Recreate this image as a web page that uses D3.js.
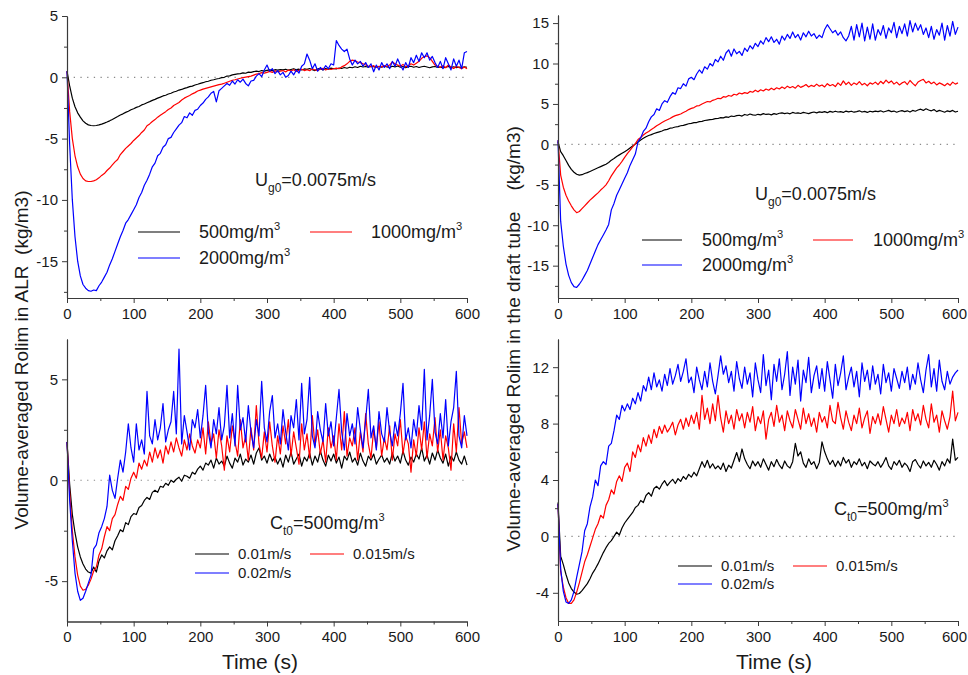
<!DOCTYPE html>
<html>
<head>
<meta charset="utf-8">
<script src="https://cdn.jsdelivr.net/npm/d3@7"></script>
<style>
  body { margin: 0; background: #fff; }
  svg text { font-family: Arial, "Liberation Sans", sans-serif; }
</style>
</head>
<body>
<svg id="chart" width="968" height="675"></svg>
<script>
// Sampling interval of every series below (s); value i is at t = i * timeStep.
const timeStep = 4;

// ALR, Ug0 = 0.0075 m/s, three inlet concentrations
const alrC500 = [
  0.5, -0.7, -1.7, -2.4, -2.9, -3.25, -3.55, -3.75, -3.88, -3.93,
  -3.95, -3.93, -3.88, -3.82, -3.74, -3.65, -3.55, -3.44, -3.32, -3.2,
  -3.07, -2.98, -2.86, -2.77, -2.65, -2.56, -2.45, -2.38, -2.25, -2.18,
  -2.07, -1.98, -1.88, -1.8, -1.7, -1.62, -1.52, -1.46, -1.36, -1.3,
  -1.2, -1.14, -1.04, -0.99, -0.9, -0.84, -0.76, -0.72, -0.63, -0.57,
  -0.5, -0.44, -0.36, -0.32, -0.24, -0.2, -0.14, -0.1, -0.03, 0.0,
  0.1, 0.12, 0.2, 0.24, 0.28, 0.3, 0.36, 0.33, 0.42, 0.4,
  0.46, 0.5, 0.47, 0.55, 0.5, 0.57, 0.6, 0.55, 0.62, 0.58,
  0.63, 0.6, 0.66, 0.58, 0.64, 0.7, 0.62, 0.66, 0.6, 0.68,
  0.65, 0.72, 0.62, 0.55, 0.68, 0.7, 0.6, 0.72, 0.66, 0.75,
  0.7, 0.68, 0.76, 0.72, 0.8, 0.74, 0.82, 0.78, 0.86, 0.8,
  0.9, 0.84, 0.88, 0.82, 0.9, 0.86, 0.8, 0.88, 0.82, 0.9,
  0.85, 0.8, 0.9, 0.85, 0.92, 0.82, 0.88, 0.78, 0.86, 0.9,
  0.82, 0.88, 0.8, 0.86, 0.9, 0.84, 0.78, 0.85, 0.88, 0.8,
  0.84, 0.76, 0.82, 0.88, 0.8, 0.86, 0.78, 0.84, 0.8, 0.86,
  0.82
];
const alrC1000 = [
  0.5, -2.8, -5.0, -6.4, -7.3, -7.9, -8.25, -8.45, -8.5, -8.5,
  -8.45, -8.35, -8.2, -8.0, -7.85, -7.6, -7.4, -7.15, -6.9, -6.7,
  -6.3, -6.05, -5.8, -5.6, -5.4, -5.15, -4.95, -4.75, -4.5, -4.3,
  -3.95, -3.8, -3.6, -3.45, -3.25, -3.1, -2.95, -2.8, -2.62, -2.5,
  -2.3, -2.18, -2.05, -1.85, -1.7, -1.58, -1.48, -1.35, -1.25, -1.12,
  -1.05, -0.96, -0.9, -0.84, -0.78, -0.72, -0.66, -0.6, -0.56, -0.48,
  -0.4, -0.32, -0.24, -0.2, -0.14, -0.08, -0.02, 0.02, 0.06, 0.1,
  0.18, 0.26, 0.3, 0.38, 0.34, 0.4, 0.48, 0.4, 0.52, 0.45,
  0.5, 0.55, 0.44, 0.6, 0.52, 0.62, 0.48, 0.58, 0.66, 0.55,
  0.62, 0.54, 0.7, 0.6, 0.56, 0.66, 0.74, 0.6, 0.7, 0.64,
  0.7, 0.75, 0.7, 0.85, 0.95, 1.1, 1.3, 1.4, 1.35, 1.25,
  1.2, 1.1, 1.0, 0.92, 0.85, 0.95, 0.8, 0.9, 0.85, 0.95,
  0.88, 1.0, 1.25, 1.1, 1.0, 0.9, 1.05, 0.85, 0.95, 1.1,
  1.0, 1.15, 1.3, 1.55, 1.7, 1.75, 1.6, 1.3, 1.0, 0.9,
  0.82, 0.95, 0.78, 1.0, 0.85, 0.72, 0.9, 0.8, 0.7, 0.85,
  0.7
];
const alrC2000 = [
  0.5, -5.5, -10.0, -13.0, -15.0, -16.2, -16.9, -17.2, -17.4, -17.45,
  -17.35, -17.4, -17.0, -16.7, -16.3, -15.9, -15.3, -14.8, -14.2, -13.6,
  -13.0, -12.5, -11.9, -11.6, -11.2, -10.8, -10.4, -9.8, -9.4, -8.8,
  -8.4, -7.9, -7.3, -7.0, -6.4, -6.2, -5.7, -5.5, -5.0, -4.9,
  -4.5, -4.2, -3.9, -3.7, -3.2, -3.3, -2.9, -3.1, -2.7, -2.6,
  -2.3, -2.1, -1.8, -1.6, -1.3, -1.15, -2.0, -1.1, -0.9, -0.7,
  -0.5, -0.65, -0.3, -0.55, -0.2, -0.4, -0.15, -0.5, -0.7, -0.3,
  -0.25, 0.1, 0.3, 0.05, 0.6, 1.0, 0.5, 0.7, 0.3, 0.55,
  0.2, 0.4, 0.0, 0.15, 0.5, 0.2, 0.6, 0.35, 0.9, 1.1,
  1.9, 1.4, 0.7, 1.1, 0.5, 0.8, 0.6, 0.95, 0.7, 1.1,
  1.0, 3.0, 2.6, 2.3, 2.1, 2.3, 1.5, 1.0, 1.4, 1.1,
  1.3, 0.9, 1.2, 0.8, 1.1, 0.45, 1.0, 0.6, 1.2, 0.8,
  1.1, 0.7, 1.3, 0.9, 1.5, 1.0, 0.6, 1.2, 0.8, 1.6,
  1.2, 1.8, 1.3, 2.0, 1.6, 2.0, 1.4, 1.7, 1.2, 0.8,
  1.3, 0.7, 1.6, 1.1, 0.6, 1.5, 0.9, 1.4, 0.7, 2.0,
  2.1
];

// Draft tube, Ug0 = 0.0075 m/s, three inlet concentrations
const tubeC500 = [
  0.3, -0.9, -1.4, -2.0, -2.6, -3.1, -3.45, -3.7, -3.8, -3.75,
  -3.6, -3.5, -3.35, -3.2, -3.05, -2.9, -2.75, -2.6, -2.45, -2.25,
  -1.95, -1.75, -1.5, -1.3, -1.1, -0.9, -0.7, -0.45, -0.2, 0.05,
  0.3, 0.55, 0.75, 0.95, 1.1, 1.2, 1.35, 1.45, 1.55, 1.65,
  1.8, 1.85, 2.0, 2.05, 2.15, 2.2, 2.3, 2.35, 2.45, 2.55,
  2.6, 2.68, 2.7, 2.82, 2.85, 2.95, 3.0, 3.05, 3.1, 3.18,
  3.2, 3.3, 3.28, 3.4, 3.35, 3.5, 3.45, 3.55, 3.6, 3.5,
  3.7, 3.6, 3.75, 3.65, 3.6, 3.72, 3.65, 3.8, 3.7, 3.75,
  3.65, 3.8, 3.72, 3.85, 3.9, 3.8, 3.88, 3.78, 3.95, 3.85,
  3.9, 3.82, 3.95, 3.88, 3.8, 3.92, 4.0, 3.9, 4.02, 3.95,
  4.05, 3.92, 4.08, 3.98, 4.1, 4.0, 4.05, 3.95, 4.12, 4.02,
  4.1, 3.98, 4.05, 4.15, 4.0, 4.08, 3.95, 4.1, 4.02, 4.12,
  4.05, 4.15, 4.0, 4.1, 4.2, 4.05, 4.12, 3.98, 4.1, 4.18,
  4.05, 4.15, 4.0, 4.2, 4.1, 4.25, 4.35, 4.2, 4.4, 4.25,
  4.15, 4.3, 4.05, 4.2, 4.1, 3.98, 4.15, 4.05, 4.2, 4.0,
  4.1
];
const tubeC1000 = [
  0.5, -3.8, -5.3, -6.3, -7.0, -7.6, -8.1, -8.45, -8.3, -7.95,
  -7.6, -7.25, -6.9, -6.6, -6.3, -6.0, -5.65, -5.35, -5.0, -4.5,
  -3.9, -3.4, -2.9, -2.55, -2.1, -1.6, -1.15, -0.75, -0.3, 0.1,
  0.6, 0.85, 1.15, 1.4, 1.6, 1.85, 2.05, 2.3, 2.5, 2.7,
  2.9, 3.05, 3.2, 3.4, 3.55, 3.65, 3.75, 3.95, 4.1, 4.3,
  4.45, 4.55, 4.75, 4.8, 5.0, 5.15, 5.3, 5.25, 5.45, 5.55,
  5.7, 5.65, 5.9, 5.85, 6.05, 5.95, 6.2, 6.1, 6.35, 6.25,
  6.4, 6.3, 6.55, 6.45, 6.7, 6.5, 6.75, 6.6, 6.85, 6.7,
  6.95, 6.75, 7.0, 6.85, 7.1, 6.9, 7.2, 7.0, 7.15, 6.95,
  7.3, 7.05, 7.2, 7.4, 7.1, 7.3, 7.15, 7.45, 7.2, 7.35,
  7.1, 7.5, 7.25, 7.4, 7.15, 7.6, 7.3, 7.85, 7.4, 7.7,
  7.3, 7.6, 7.4, 7.75, 7.35, 7.55, 7.25, 7.6, 7.45, 7.7,
  7.4, 7.8, 7.5, 7.95, 7.6, 7.85, 7.45, 7.7, 7.35, 7.6,
  7.75, 7.4, 7.9, 7.55, 7.25, 7.7, 7.9, 8.05, 7.6, 7.8,
  7.5, 7.7, 7.35, 7.6, 7.45, 7.25, 7.55, 7.3, 7.7, 7.45,
  7.6
];
const tubeC2000 = [
  0.5, -9.5, -12.6, -14.8, -16.2, -17.1, -17.6, -17.7, -17.3, -16.8,
  -16.2, -15.6, -14.8, -14.0, -13.2, -12.4, -11.8, -11.2, -10.6, -9.9,
  -8.1, -7.3, -6.3, -5.6, -4.9, -4.2, -3.5, -2.6, -1.9, -1.2,
  0.3, 0.8, 1.6, 2.0, 2.8, 3.4, 3.7, 4.4, 4.2, 5.0,
  5.4, 5.2, 5.9, 6.4, 6.2, 7.0, 6.9, 7.5, 7.2, 8.1,
  8.3, 8.0, 8.7, 9.2, 8.8, 9.6, 9.3, 10.0, 9.7, 10.5,
  10.2, 10.9, 10.4, 11.3, 11.7, 10.9, 11.8, 11.2, 11.5, 11.0,
  11.9, 11.5, 12.2, 11.8, 12.5, 12.1, 12.8, 12.4, 13.2, 12.7,
  13.3, 12.6, 13.0, 12.4, 13.4, 12.9, 13.6, 13.1, 13.9, 13.2,
  13.6, 12.9, 13.8, 13.3, 14.0, 13.4, 13.7, 13.1, 13.5, 13.2,
  14.2, 14.8, 14.3, 13.8, 14.1, 13.5, 13.9, 13.2, 12.8, 13.4,
  14.6, 12.9, 14.8, 13.3, 15.0, 12.8, 14.5, 13.0, 14.9, 12.9,
  14.2, 13.5, 14.7, 13.1, 14.4, 13.8, 15.1, 13.2, 14.6, 13.7,
  14.9, 13.4, 15.3, 13.9, 15.0, 14.1, 14.8, 13.6, 14.4, 13.2,
  14.6, 13.0, 14.2, 13.5, 15.0, 12.9, 14.7, 13.4, 15.2, 13.6,
  14.5
];

// ALR, Ct0 = 500 mg/m3, three superficial gas velocities
const alrU010 = [
  1.9, -0.2, -1.7, -2.6, -3.3, -3.8, -4.15, -4.4, -4.55, -4.6,
  -4.3, -4.55, -4.0, -3.7, -3.85, -3.5, -3.3, -3.45, -3.0, -2.75,
  -2.45, -2.55, -2.1, -2.2, -1.8, -1.65, -1.7, -1.35, -1.25, -1.0,
  -0.85, -0.95, -0.6, -0.5, -0.6, -0.3, -0.35, -0.15, -0.25, 0.0,
  -0.1, 0.05, 0.15, -0.05, 0.25, 0.2, 0.1, 0.4, 0.3, 0.55,
  0.7, 0.5, 0.85, 0.75, 1.0, 0.6, 1.1, 0.8, 0.95, 0.7,
  1.2, 0.85, 0.6, 1.1, 0.9, 1.3, 0.75, 1.05, 0.9, 1.25,
  0.8, 1.35, 1.6, 1.0, 1.2, 0.85, 1.3, 0.95, 1.15, 0.8,
  1.1, 0.65, 1.25, 0.9, 1.4, 0.8, 1.05, 1.3, 0.7, 1.15,
  0.95, 1.35, 0.75, 1.2, 0.9, 1.45, 1.0, 0.7, 1.25, 0.95,
  1.3, 0.85, 1.15, 0.6, 1.2, 1.0, 1.4, 0.9, 1.1, 0.75,
  1.35, 0.95, 0.7, 1.2, 1.0, 1.3, 0.8, 1.05, 1.25, 0.9,
  1.1, 0.8, 1.35, 0.95, 1.2, 0.85, 1.45, 1.0, 0.75, 1.15,
  0.9, 1.3, 1.05, 1.6, 0.95, 1.25, 0.8, 1.35, 1.0, 1.5,
  1.1, 0.85, 1.3, 0.7, 1.2, 0.95, 1.4, 1.0, 0.8, 1.2,
  0.75
];
const alrU015 = [
  1.9, -0.6, -2.5, -3.8, -4.7, -5.25, -5.45, -5.4, -5.2, -4.9,
  -4.5, -4.3, -3.7, -3.4, -2.8, -2.3, -2.5, -1.9, -1.7, -1.2,
  -0.8, -1.0, -0.3, -0.45, 0.1, 0.4, 0.1, 0.85, 0.55, 1.0,
  0.7, 1.4, 0.9, 1.6, 1.1, 1.5, 0.85, 1.7, 1.3, 1.9,
  1.4, 2.1, 1.6, 1.2, 2.0, 1.5, 2.3, 1.7, 1.35, 2.0,
  1.6, 2.6, 1.3, 2.9, 1.8, 2.3, 1.1, 2.5, 1.7, 0.5,
  2.2, 1.4, 2.7, 1.9, 1.2, 3.0, 1.6, 2.2, 1.0, 2.6,
  1.5, 3.7, 1.8, 1.1, 2.4, 1.4, 2.9, 1.7, 0.9, 2.2,
  1.3, 2.7, 1.8, 3.0, 1.2, 2.4, 1.6, 0.8, 2.8, 1.5,
  2.3, 1.1, 3.2, 1.7, 2.5, 1.3, 2.0, 0.9, 2.6, 1.6,
  2.2, 1.0, 2.8, 1.5, 3.4, 1.2, 2.1, 1.7, 2.6, 1.0,
  2.4, 1.4, 3.3, 1.8, 1.1, 2.5, 1.6, 2.9, 1.2, 2.1,
  1.5, 2.7, 1.0, 2.3, 1.7, 3.0, 1.3, 2.2, 1.8, 0.4,
  2.0, 1.2, 2.6, 1.5, 2.9, 1.1, 2.3, 1.7, 3.1, 1.4,
  2.5, 1.0, 2.2, 1.6, 0.5, 2.8, 1.4, 3.6, 1.8, 2.4,
  1.6
];
const alrU020 = [
  1.9, -1.0, -3.0, -4.6, -5.5, -5.95, -5.85, -5.5, -5.1, -4.7,
  -3.4, -3.2, -2.6, -2.3, -1.9, -1.3, 0.25, -0.5, -0.9, 0.1,
  1.0, 0.4, 1.4, 2.8, 1.6, 0.9, 2.8, 1.5, 2.0, 1.3,
  4.4, 2.2, 1.8, 3.0, 2.0, 2.6, 3.8, 1.9, 2.5, 2.9,
  4.4, 2.3, 6.5, 1.8, 3.2, 2.4, 1.5, 3.0, 2.6, 3.5,
  2.1, 3.2, 4.7, 2.4, 1.6, 3.0, 2.3, 3.6, 2.0, 2.7,
  4.7, 2.1, 3.3, 1.7, 4.7, 2.5, 3.1, 1.9, 3.7, 2.4,
  1.6, 3.0, 2.2, 4.9, 2.6, 1.9, 3.4, 4.2, 2.1, 2.8,
  1.8, 3.5, 2.4, 1.5, 3.2, 2.6, 4.0, 2.0, 4.8, 2.3,
  3.0, 5.1, 2.2, 1.6, 3.4, 2.5, 1.9, 3.8, 2.2, 2.9,
  1.7, 3.1, 4.5, 2.4, 1.5, 3.3, 2.2, 2.8, 1.8, 3.6,
  2.5, 1.6, 3.0, 4.5, 2.1, 2.7, 1.5, 3.4, 2.3, 1.9,
  3.6, 2.4, 1.7, 2.9, 2.2, 3.3, 4.8, 2.0, 2.6, 1.6,
  3.0, 2.2, 3.7, 2.5, 5.5, 2.0, 3.2, 5.0, 2.4, 1.8,
  3.3, 2.1, 4.0, 1.7, 2.9, 3.6, 5.4, 2.2, 1.6, 3.2,
  2.2
];

// Draft tube, Ct0 = 500 mg/m3, three superficial gas velocities
const tubeU010 = [
  2.4, -1.4, -2.0, -2.7, -3.3, -3.7, -3.95, -4.1, -4.05, -3.85,
  -3.6, -3.35, -3.0, -2.6, -2.3, -1.95, -1.55, -1.15, -0.8, -0.5,
  -0.3, 0.0, 0.3, 0.1, 0.6, 0.95, 1.2, 1.45, 1.7, 2.05,
  2.2, 2.55, 2.4, 2.9, 3.1, 2.85, 3.4, 3.55, 3.35, 3.7,
  3.95, 3.6, 3.85, 4.05, 3.75, 4.1, 3.9, 4.25, 4.05, 4.4,
  4.2, 4.55, 4.3, 4.8, 5.3, 4.9, 5.4, 4.85, 5.15, 4.8,
  5.0, 4.75, 5.2, 4.6, 5.05, 4.85, 5.4, 5.95, 5.3, 6.2,
  5.5, 5.1, 4.8, 5.35, 5.0, 5.3, 4.9, 5.5, 5.1, 4.7,
  5.3, 4.95, 5.45, 5.05, 4.8, 5.35, 5.0, 4.85, 5.3, 6.6,
  5.7, 6.0, 5.2, 4.9, 5.5, 5.1, 5.3, 4.8, 5.25, 6.7,
  6.0, 5.5, 5.1, 5.4, 4.95, 5.35, 5.0, 5.6, 5.2, 5.45,
  4.9, 5.3, 5.1, 5.5, 5.0, 5.25, 4.8, 5.35, 5.15, 5.0,
  5.3, 4.9, 5.2, 5.6, 5.0, 4.75, 5.3, 5.05, 5.4, 4.9,
  5.2, 5.0, 4.6, 5.3, 5.45, 5.1, 4.85, 5.35, 5.0, 5.25,
  4.9, 5.4, 5.1, 4.7, 5.3, 5.0, 5.5, 5.2, 6.9, 5.4,
  5.6
];
const tubeU015 = [
  2.3, -2.5, -3.6, -4.35, -4.75, -4.75, -4.5, -3.95, -3.3, -2.55,
  -1.8, -1.3, -0.7, -0.1, 0.5, 0.9, 1.5, 1.3, 2.2, 2.6,
  3.3, 3.0, 3.9, 4.3, 3.9, 4.9, 5.2, 4.6, 6.0, 5.6,
  6.5, 6.0, 7.0, 6.4, 7.2, 6.6, 7.6, 7.0, 7.8, 7.3,
  7.9, 7.4, 7.7, 8.1, 7.2, 7.9, 8.3, 7.6, 8.4, 7.8,
  8.6, 8.0, 8.8, 7.6, 10.0, 8.3, 9.1, 8.0, 9.4, 8.2,
  10.0, 8.4, 7.4, 8.9, 8.0, 8.6, 7.6, 9.0, 8.2, 8.7,
  7.7, 8.8, 8.1, 9.2, 7.5, 8.5, 8.0, 8.9, 6.9, 8.3,
  8.8, 7.8, 9.3, 8.1, 8.6, 7.5, 8.9, 8.2, 7.7, 9.0,
  8.3, 7.6, 9.1, 8.0, 8.7, 7.8, 8.4, 7.4, 8.8, 8.1,
  8.5, 7.7, 9.3, 8.2, 8.0, 9.5, 8.4, 7.6, 8.9, 8.1,
  7.5, 8.6, 8.0, 9.1, 7.7, 8.4, 8.9, 7.3, 8.5, 8.0,
  8.7, 7.9, 9.2, 8.3, 7.4, 8.6, 8.0, 9.0, 7.8, 8.4,
  8.0, 8.8, 7.5, 9.0, 8.2, 8.7, 7.9, 9.3, 8.3, 7.7,
  9.4, 8.1, 8.6, 7.4, 8.9, 8.2, 7.6, 8.5, 10.3, 8.2,
  8.8
];
const tubeU020 = [
  2.3, -2.3, -3.9, -4.65, -4.75, -4.5, -3.9, -2.9, -2.0, -1.1,
  0.4, 0.9, 2.1, 2.8, 4.0, 3.6, 5.0, 5.3, 5.1, 6.4,
  6.6, 7.5, 8.6, 8.3, 9.3, 8.9, 9.4, 9.0, 9.8, 9.4,
  10.2, 9.6, 10.7, 10.3, 11.3, 10.4, 11.6, 10.6, 11.1, 10.3,
  11.5, 10.7, 11.9, 10.8, 11.4, 12.2, 11.0, 11.7, 12.6, 10.9,
  11.3, 10.2, 12.0, 11.1, 10.4, 11.7, 10.6, 12.3, 11.0, 10.1,
  11.4, 12.8, 11.5, 12.1, 10.9, 11.7, 10.3, 12.4, 11.2, 10.5,
  12.0, 10.8, 11.6, 9.9, 12.3, 11.1, 10.2, 12.9, 10.7, 11.8,
  9.7, 12.2, 11.0, 12.6, 10.4, 11.5, 13.1, 10.0, 12.0, 10.8,
  12.5, 9.6, 11.8, 10.9, 12.7, 10.2, 11.4, 12.1, 10.5, 11.9,
  10.3, 12.4, 11.1, 9.8, 12.2, 10.7, 11.6, 12.8, 10.4, 11.3,
  12.0, 10.6, 11.7, 9.9, 12.3, 11.0, 11.8, 10.4, 12.1, 10.8,
  11.5, 10.1, 12.2, 10.9, 11.6, 10.3, 11.9, 11.2, 10.5, 11.7,
  10.9, 12.0, 10.4, 11.5, 10.8, 12.3, 11.1, 10.2, 11.8, 12.9,
  10.6, 11.9, 10.3, 12.5, 11.0, 10.4, 11.7, 10.8, 11.3, 11.6,
  11.8
];

// Tick values and labels
const timeTicks = [0, 100, 200, 300, 400, 500, 600];
const timeMinorTicks = [50, 150, 250, 350, 450, 550];
const concLabels = ["500mg/m^3", "1000mg/m^3", "2000mg/m^3"];
const velLabels = ["0.01m/s", "0.015m/s", "0.02m/s"];
const seriesColors = ["#000000", "#ff0000", "#0000ff"];

const svg = d3.select("#chart");

const panels = [
  { data: [alrC500, alrC1000, alrC2000], yDomain: [-18, 5],
    yTicks: [-15, -10, -5, 0, 5], yMinor: [-17.5, -12.5, -7.5, -2.5, 2.5],
    box: { left: 67, right: 467, top: 16, bottom: 298 },
    labels: concLabels, edgeShift: 0,
    legend: { x1: 138, x2: 180, tx: 199, col: 172, y: 232, row: 26, size: 18 },
    note: { main: "U", sub: "g0", rest: "=0.0075m/s", sup: "", x: 255, y: 186 } },
  { data: [tubeC500, tubeC1000, tubeC2000], yDomain: [-19, 16],
    yTicks: [-15, -10, -5, 0, 5, 10, 15], yMinor: [-17.5, -12.5, -7.5, -2.5, 2.5, 7.5, 12.5],
    box: { left: 558, right: 958, top: 15, bottom: 298 },
    labels: concLabels, edgeShift: -4,
    legend: { x1: 642, x2: 682, tx: 702, col: 171, y: 240, row: 25, size: 18 },
    note: { main: "U", sub: "g0", rest: "=0.0075m/s", sup: "", x: 755, y: 200 } },
  { data: [alrU010, alrU015, alrU020], yDomain: [-7, 7],
    yTicks: [-5, 0, 5], yMinor: [-2.5, 2.5],
    box: { left: 67, right: 467, top: 339, bottom: 621.5 },
    labels: velLabels, edgeShift: 0,
    legend: { x1: 195, x2: 229, tx: 238, col: 115, y: 554, row: 19, size: 15 },
    note: { main: "C", sub: "t0", rest: "=500mg/m", sup: "3", x: 270, y: 529 } },
  { data: [tubeU010, tubeU015, tubeU020], yDomain: [-6, 14],
    yTicks: [-4, 0, 4, 8, 12], yMinor: [-2, 2, 6, 10],
    box: { left: 558, right: 958, top: 339, bottom: 621 },
    labels: velLabels, edgeShift: -4,
    legend: { x1: 678, x2: 712, tx: 721, col: 115, y: 566, row: 18, size: 15 },
    note: { main: "C", sub: "t0", rest: "=500mg/m", sup: "3", x: 834, y: 515 } }
];

const fmt = d => (d < 0 ? "-" + Math.abs(d) : String(d));

// Writes "text^sup" as text with a raised small superscript
function richLabel(sel, label, size) {
  const parts = label.split("^");
  sel.append("tspan").text(parts[0]);
  if (parts[1]) {
    sel.append("tspan").attr("font-size", size * 0.62).attr("dy", -size * 0.45).text(parts[1]);
  }
}

function styleAxis(g) {
  g.selectAll("path.domain").attr("stroke", "#3a3a3a").attr("stroke-width", 1.1);
  g.selectAll(".tick line").attr("stroke", "#3a3a3a").attr("stroke-width", 1);
  g.selectAll(".tick text").attr("fill", "#1a1a1a").attr("font-size", 15)
    .attr("font-family", "Arial, 'Liberation Sans', sans-serif");
}

panels.forEach(p => {
  const b = p.box;
  const x = d3.scaleLinear().domain([0, 600]).range([b.left, b.right]);
  const y = d3.scaleLinear().domain(p.yDomain).range([b.bottom, b.top]);
  const g = svg.append("g");

  // zero reference line
  g.append("line")
    .attr("x1", x(0)).attr("x2", x(600)).attr("y1", y(0)).attr("y2", y(0))
    .attr("stroke", "#8a8a8a").attr("stroke-width", 1.2)
    .attr("stroke-dasharray", "1.3,5.4");

  const line = d3.line().x((d, i) => x(i * timeStep)).y(d => y(d));
  p.data.forEach((series, k) => {
    g.append("path").datum(series)
      .attr("d", line)
      .attr("fill", "none")
      .attr("stroke", seriesColors[k])
      .attr("stroke-width", 1.2)
      .attr("stroke-linejoin", "round");
  });

  // axes with major and minor ticks
  const xMinor = g.append("g").attr("transform", `translate(0,${b.bottom})`)
    .call(d3.axisBottom(x).tickValues(timeMinorTicks).tickSize(3).tickSizeOuter(0).tickFormat(""));
  styleAxis(xMinor);
  const xMajor = g.append("g").attr("transform", `translate(0,${b.bottom})`)
    .call(d3.axisBottom(x).tickValues(timeTicks).tickSize(5).tickSizeOuter(0).tickPadding(5).tickFormat(fmt));
  styleAxis(xMajor);
  // keep the last time label inside the page edge
  xMajor.selectAll(".tick text").filter(d => d === 600).attr("dx", p.edgeShift);

  const yMinor = g.append("g").attr("transform", `translate(${b.left},0)`)
    .call(d3.axisLeft(y).tickValues(p.yMinor).tickSize(3).tickSizeOuter(0).tickFormat(""));
  styleAxis(yMinor);
  const yMajor = g.append("g").attr("transform", `translate(${b.left},0)`)
    .call(d3.axisLeft(y).tickValues(p.yTicks).tickSize(5).tickSizeOuter(0).tickPadding(4).tickFormat(fmt));
  styleAxis(yMajor);

  // legend: two entries on the first row, one on the second
  const L = p.legend;
  const slots = [[0, 0], [1, 0], [0, 1]];
  p.labels.forEach((lab, k) => {
    const dx = slots[k][0] * L.col;
    const ly = L.y + slots[k][1] * L.row;
    g.append("line")
      .attr("x1", L.x1 + dx).attr("x2", L.x2 + dx).attr("y1", ly).attr("y2", ly)
      .attr("stroke", seriesColors[k]).attr("stroke-width", 1.2);
    const t = g.append("text")
      .attr("x", L.tx + dx).attr("y", ly + L.size * 0.36)
      .attr("font-size", L.size).attr("fill", "#1a1a1a");
    richLabel(t, lab, L.size);
  });

  // operating-condition note
  const n = p.note;
  const t = g.append("text").attr("x", n.x).attr("y", n.y)
    .attr("font-size", 18).attr("fill", "#1a1a1a");
  t.append("tspan").text(n.main);
  t.append("tspan").attr("font-size", 12).attr("dy", 6).text(n.sub);
  t.append("tspan").attr("dy", -6).text(n.rest);
  if (n.sup) {
    t.append("tspan").attr("font-size", 11).attr("dy", -8).text(n.sup);
  }
});

// shared axis titles
svg.append("text")
  .attr("transform", "translate(28,360) rotate(-90)")
  .attr("text-anchor", "middle").attr("font-size", 19).attr("fill", "#1a1a1a")
  .style("white-space", "pre")
  .text("Volume-averaged Rolim in ALR  (kg/m3)");
svg.append("text")
  .attr("transform", "translate(520,339) rotate(-90)")
  .attr("text-anchor", "middle").attr("font-size", 19).attr("fill", "#1a1a1a")
  .style("white-space", "pre")
  .text("Volume-averaged Rolim in the draft tube    (kg/m3)");
[260, 774].forEach(cx => {
  svg.append("text").attr("x", cx).attr("y", 669)
    .attr("text-anchor", "middle").attr("font-size", 21).attr("fill", "#1a1a1a")
    .text("Time (s)");
});
</script>
</body>
</html>
